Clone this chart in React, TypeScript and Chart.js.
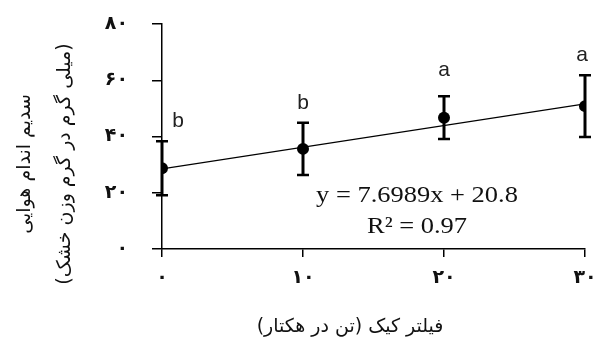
import React, { useEffect, useRef } from "react";
import { Chart, registerables } from "chart.js";

Chart.register(...registerables);

// ---- data ----
const xValues = [0, 10, 20, 30];
const meanValues = [28.7, 35.6, 46.7, 50.8];
const errorValues = [9.6, 9.3, 7.6, 11.0];
const groupLetters = ["b", "b", "a", "a"];
const trendX = [0, 30];
const trendY = [28.5, 51.6];
const xTickValues = [0, 10, 20, 30];
const yTickValues = [0, 20, 40, 60, 80];
const equationText = "y = 7.6989x + 20.8";
const r2Text = "R² = 0.97";
const xTitle = "فیلتر کیک (تن در هکتار)";
const yTitleLines = ["سدیم اندام هوایی", "(میلی گرم در گرم وزن خشک)"];

const persian = (n: number | string) =>
  String(n).replace(/[0-9]/g, (d) => "۰۱۲۳۴۵۶۷۸۹"[Number(d)]);

const ARABIC_FONT = '"DejaVu Sans", "Noto Sans", sans-serif';

const overlayPlugin = {
  id: "overlay",
  beforeDatasetsDraw(chart: any) {
    const { ctx, scales } = chart;
    const xs = scales.x;
    const ys = scales.y;
    ctx.save();
    ctx.strokeStyle = "#000";
    xValues.forEach((xv, i) => {
      const px = xs.getPixelForValue(xv);
      const top = ys.getPixelForValue(meanValues[i] + errorValues[i]);
      const bot = ys.getPixelForValue(meanValues[i] - errorValues[i]);
      ctx.lineWidth = 3;
      ctx.beginPath();
      ctx.moveTo(px, top);
      ctx.lineTo(px, bot);
      ctx.stroke();
      ctx.lineWidth = 2.5;
      ctx.beginPath();
      ctx.moveTo(px - 6, top);
      ctx.lineTo(px + 6, top);
      ctx.moveTo(px - 6, bot);
      ctx.lineTo(px + 6, bot);
      ctx.stroke();
    });
    ctx.restore();
  },
  afterDatasetsDraw(chart: any) {
    const { ctx, scales, chartArea, width } = chart;
    const xs = scales.x;
    const ys = scales.y;
    ctx.save();
    // group letters
    ctx.fillStyle = "#222";
    ctx.font = '21px "Liberation Sans", Arial, sans-serif';
    ctx.textAlign = "center";
    ctx.textBaseline = "alphabetic";
    xValues.forEach((xv, i) => {
      let px = xs.getPixelForValue(xv);
      const top = ys.getPixelForValue(meanValues[i] + errorValues[i]);
      if (px - chartArea.left < 10) px += 16;
      if (width - px < 12) px = width - 11;
      const lift = i === 2 ? 20 : 14;
      ctx.fillText(groupLetters[i], px, top - lift);
    });
    // equation
    ctx.fillStyle = "#111";
    ctx.font = '23px "Liberation Serif", "Times New Roman", serif';
    const cx = 417;
    ctx.save();
    ctx.translate(cx, 202);
    ctx.scale(1.15, 1);
    ctx.fillText(equationText, 0, 0);
    ctx.restore();
    ctx.save();
    ctx.translate(cx, 233);
    ctx.scale(1.15, 1);
    ctx.fillText(r2Text, 0, 0);
    ctx.restore();

    // axis titles
    ctx.fillStyle = "#111";
    ctx.font = "19px " + ARABIC_FONT;
    ctx.direction = "rtl";
    ctx.textAlign = "center";
    ctx.textBaseline = "middle";
    ctx.fillText(xTitle, 350, 327);
    const yCenters = [25, 65];
    yTitleLines.forEach((t, i) => {
      ctx.save();
      ctx.translate(yCenters[i], 164);
      ctx.rotate(-Math.PI / 2);
      ctx.fillText(t, 0, 0);
      ctx.restore();
    });
    ctx.restore();
  },
};

export default function App() {
  const ref = useRef<HTMLCanvasElement | null>(null);
  useEffect(() => {
    if (!ref.current) return;
    const chart = new Chart(ref.current, {
      type: "scatter",
      data: {
        datasets: [
          {
            data: trendX.map((x, i) => ({ x, y: trendY[i] })),
            showLine: true,
            borderColor: "#000",
            borderWidth: 1.2,
            pointRadius: 0,
            pointHoverRadius: 0,
          },
          {
            data: xValues.map((x, i) => ({ x, y: meanValues[i] })),
            showLine: false,
            pointRadius: 6,
            pointBackgroundColor: "#000",
            pointBorderColor: "#000",
            borderWidth: 0,
          },
        ],
      },
      options: {
        responsive: false,
        devicePixelRatio: 1,
        animation: false,
        layout: { padding: { top: 24, right: 8, left: 0, bottom: 0 } },
        plugins: {
          legend: { display: false },
          tooltip: { enabled: false },
        },
        scales: {
          x: {
            type: "linear",
            min: 0,
            max: 30,
            afterBuildTicks: (s: any) => {
              s.ticks = xTickValues.map((v) => ({ value: v }));
            },
            ticks: {
              callback: (v: any) => persian(v),
              color: "#111",
              font: { family: ARABIC_FONT, size: 19, weight: "bold" },
              padding: 10,
              maxRotation: 0,
            },
            grid: {
              display: true,
              drawOnChartArea: false,
              drawTicks: true,
              tickLength: 8,
              color: "#000",
              lineWidth: 1.5,
            },
            border: { display: true, color: "#000", width: 1.5 },
            afterFit: (s: any) => {
              s.height = 94;
              s.paddingLeft = 0;
              s.paddingRight = 0;
            },
          },
          y: {
            type: "linear",
            min: 0,
            max: 80,
            afterBuildTicks: (s: any) => {
              s.ticks = yTickValues.map((v) => ({ value: v }));
            },
            ticks: {
              callback: (v: any) => persian(v),
              color: "#111",
              font: { family: ARABIC_FONT, size: 19, weight: "bold" },
              padding: 24,
            },
            grid: {
              display: true,
              drawOnChartArea: false,
              drawTicks: true,
              tickLength: 10,
              color: "#000",
              lineWidth: 1.5,
            },
            border: { display: true, color: "#000", width: 1.5 },
            afterFit: (s: any) => {
              s.width = 162;
              s.paddingTop = 0;
              s.paddingBottom = 0;
            },
          },
        },
      },
      plugins: [overlayPlugin],
    } as any);
    return () => chart.destroy();
  }, []);
  return (
    <div style={{ position: "fixed", left: 0, top: 0, width: 593, height: 343, background: "#fff" }}>
      <canvas ref={ref} width={593} height={343} />
    </div>
  );
}
